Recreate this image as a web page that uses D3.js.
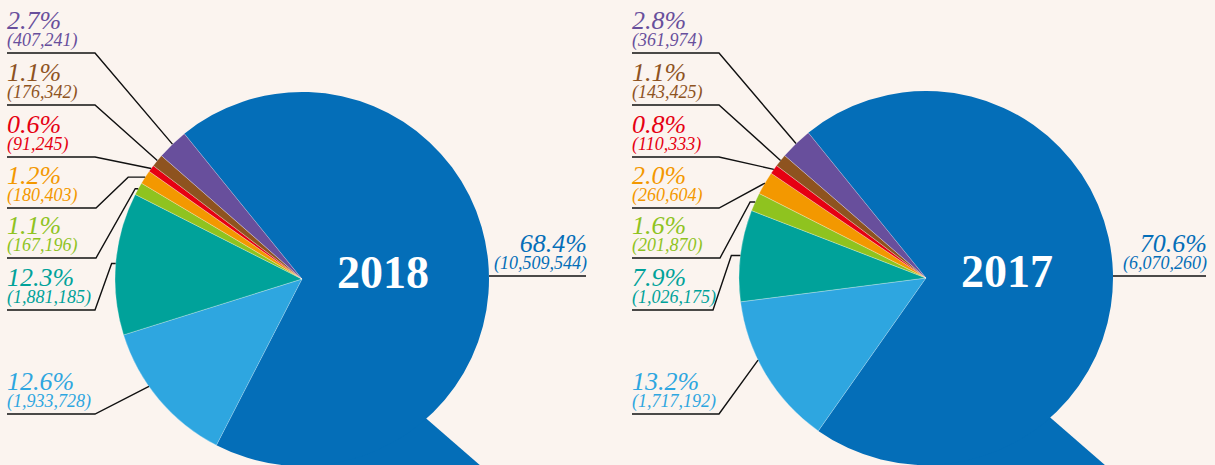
<!DOCTYPE html>
<html>
<head>
<meta charset="utf-8">
<script src="https://cdn.jsdelivr.net/npm/d3@7"></script>
<style>
  html, body { margin: 0; padding: 0; background: #FBF4EF; }
  svg { display: block; }
</style>
</head>
<body>
<svg id="chart" width="1215" height="465"></svg>
<script>
// ── data ──
const years = ['2018', '2017'];
// order: dark blue, light blue, teal, green, orange, red, brown, purple
const share2018 = [68.4, 12.6, 12.3, 1.1, 1.2, 0.6, 1.1, 2.7];
const share2017 = [70.6, 13.2, 7.9, 1.6, 2.0, 0.8, 1.1, 2.8];
const count2018 = [10509544, 1933728, 1881185, 167196, 180403, 91245, 176342, 407241];
const count2017 = [6070260, 1717192, 1026175, 201870, 260604, 110333, 143425, 361974];
const colors = ['#046EB8', '#2EA6E0', '#00A29A', '#8FC31F', '#F39800', '#E60012', '#8E531F', '#684F9C'];

// ── layout ──
const W = 1215, H = 465, R = 187;
const startDeg = -39;
const pies = [
  { year: years[0], share: share2018, count: count2018, cx: 302, cy: 279, lx: 7,   bigX: 587 },
  { year: years[1], share: share2017, count: count2017, cx: 926, cy: 278, lx: 632, bigX: 1207 }
];
// underline y for each label, in slice order
const labelY = [276, 414, 310, 258, 208, 157, 105, 53];
// short horizontal elbow before the slice, per pie
const elbow = [
  [0, 0, 4, 3, 17, 0, 0, 0],
  [0, 0, 9, 5, 0, 0, 0, 0]
];
const underEnd = [
  [0, 95, 95, 96, 96, 95, 95, 95],
  [0, 719, 713, 720, 719, 719, 719, 719]
];
// small nudge of the leader's end along the rim (degrees)
const nudge = [0, 5, 0, 0, 0, 0, 0, 0];

const svg = d3.select('#chart');
svg.append('rect').attr('width', W).attr('height', H).attr('fill', '#FBF4EF');

const fmt = d3.format(',');
const pie = d3.pie().sort(null).value(d => d)
  .startAngle(startDeg * Math.PI / 180)
  .endAngle(startDeg * Math.PI / 180 + 2 * Math.PI);
const arc = d3.arc().innerRadius(0).outerRadius(R);

const serif = '"Times New Roman", "Liberation Serif", serif';

pies.forEach((p, pi) => {
  const g = svg.append('g').attr('transform', `translate(${p.cx},${p.cy})`);

  // Q tail: notch on the rim at ~138°, running down-right off the page
  const a = 138.3 * Math.PI / 180;
  const N = [R * Math.sin(a), -R * Math.cos(a)];
  const t = 41 * Math.PI / 180;
  const u = [Math.cos(t), Math.sin(t)];
  const n = [-Math.sin(t), Math.cos(t)];
  const w = 220;
  const pt = (s, k) => [N[0] + u[0] * s + n[0] * k, N[1] + u[1] * s + n[1] * k];
  g.append('path')
    .attr('d', d3.line()([pt(-70, 0), pt(320, 0), pt(320, w), pt(-70, w)]) + 'Z')
    .attr('fill', colors[0]);

  const arcs = pie(p.share);
  g.selectAll('path.slice')
    .data(arcs)
    .join('path')
    .attr('class', 'slice')
    .attr('d', arc)
    .attr('fill', (d, i) => colors[i])
    .attr('stroke', (d, i) => i === 0 ? 'none' : 'rgba(255,255,255,0.55)')
    .attr('stroke-width', 0.5);

  // year label
  g.append('text')
    .attr('x', 81).attr('y', 9)
    .attr('text-anchor', 'middle')
    .attr('font-family', serif).attr('font-weight', 'bold').attr('font-size', 46)
    .attr('fill', '#fff')
    .text(p.year);

  // labels
  arcs.forEach((d, i) => {
    const col = colors[i];
    const pctText = p.share[i].toFixed(1) + '%';
    const cntText = '(' + fmt(p.count[i]) + ')';
    const uy = labelY[i];

    if (i === 0) {
      // big slice: right-aligned, line from the rim
      const dy = uy - p.cy;
      const ex = p.cx + Math.sqrt(R * R - dy * dy);
      svg.append('line')
        .attr('x1', ex).attr('y1', uy).attr('x2', p.bigX - 1).attr('y2', uy)
        .attr('stroke', '#111').attr('stroke-width', 1.4);
      svg.append('text')
        .attr('x', p.bigX).attr('y', uy - 24).attr('text-anchor', 'end')
        .attr('font-family', serif).attr('font-style', 'italic').attr('font-size', 26)
        .attr('fill', col).text(pctText);
      svg.append('text')
        .attr('x', p.bigX).attr('y', uy - 7).attr('text-anchor', 'end')
        .attr('font-family', serif).attr('font-style', 'italic').attr('font-size', 18)
        .attr('fill', col).text(cntText);
      return;
    }

    const mid = (d.startAngle + d.endAngle) / 2 + nudge[i] * Math.PI / 180;
    const ax = p.cx + R * Math.sin(mid);
    const ay = p.cy - R * Math.cos(mid);
    const ue = underEnd[pi][i];
    const h = elbow[pi][i];
    const pts = [[p.lx, uy], [ue, uy]];
    if (h > 0) pts.push([ax - h, ay]);
    pts.push([ax, ay]);

    svg.append('path')
      .attr('d', d3.line()(pts))
      .attr('fill', 'none')
      .attr('stroke', '#111').attr('stroke-width', 1.4);

    svg.append('text')
      .attr('x', p.lx).attr('y', uy - 24)
      .attr('font-family', serif).attr('font-style', 'italic').attr('font-size', 26)
      .attr('fill', col).text(pctText);
    svg.append('text')
      .attr('x', p.lx).attr('y', uy - 7)
      .attr('font-family', serif).attr('font-style', 'italic').attr('font-size', 18)
      .attr('fill', col).text(cntText);
  });
});
</script>
</body>
</html>
